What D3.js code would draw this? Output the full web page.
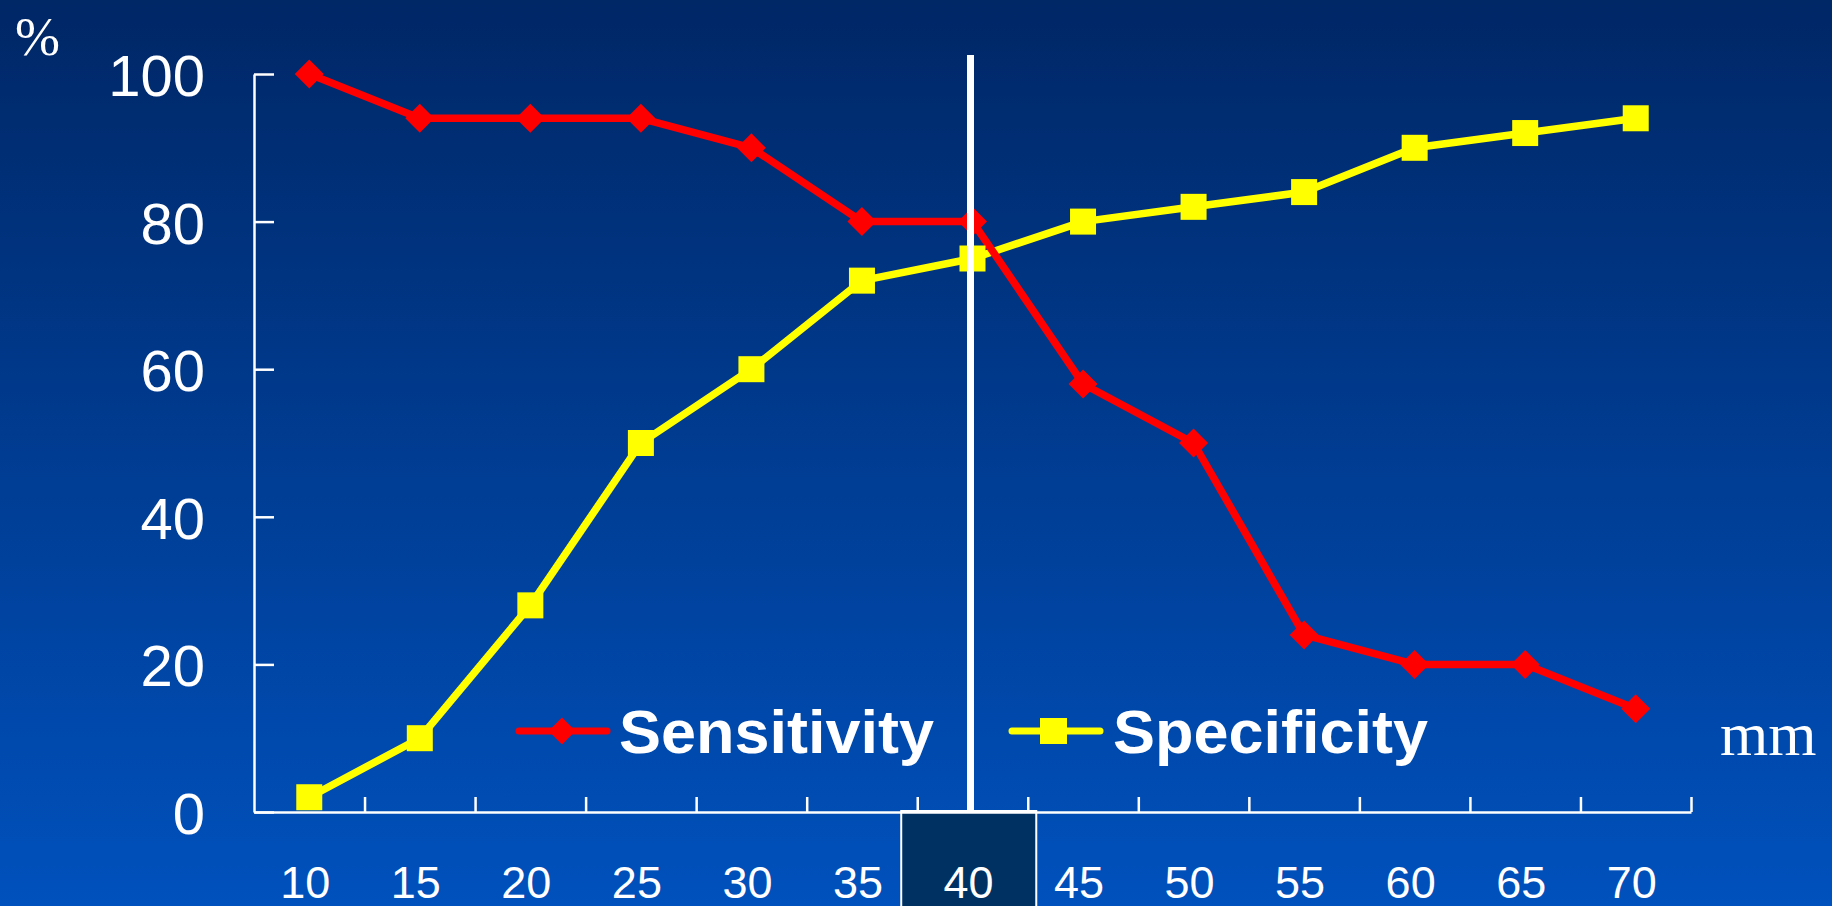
<!DOCTYPE html>
<html>
<head>
<meta charset="utf-8">
<script src="https://cdn.jsdelivr.net/npm/d3@7"></script>
<style>
  html, body { margin: 0; padding: 0; background: #003a8c; }
  svg { display: block; }
</style>
</head>
<body>
<svg id="chart" width="1832" height="906"></svg>
<script>
// Cut-off diameter (mm) on the horizontal axis
const categories = ["10", "15", "20", "25", "30", "35", "40", "45", "50", "55", "60", "65", "70"];
// Percent values for each cut-off
const sensitivity = [100, 94, 94, 94, 90, 80, 80, 58, 50, 24, 20, 20, 14];
const specificity = [2, 10, 28, 50, 60, 72, 75, 80, 82, 84, 90, 92, 94];
const yTicks = [0, 20, 40, 60, 80, 100];
const cutoff = "40";

const W = 1832, H = 906;
const svg = d3.select("#chart");

// Background: dark navy at the top fading to bright blue
const defs = svg.append("defs");
const grad = defs.append("linearGradient")
  .attr("id", "bg").attr("x1", 0).attr("y1", 0).attr("x2", 0).attr("y2", 1);
grad.append("stop").attr("offset", "0%").attr("stop-color", "#002766");
grad.append("stop").attr("offset", "100%").attr("stop-color", "#0051bd");
svg.append("rect").attr("width", W).attr("height", H).attr("fill", "url(#bg)");

const plotLeft = 254, plotRight = 1691, plotTop = 74, plotBottom = 812;

const x = d3.scaleBand().domain(categories).range([plotLeft, plotRight]).paddingInner(0).paddingOuter(0);
const xb = d3.scaleLinear().domain([0, categories.length]).range([plotLeft, plotRight]);
const y = d3.scaleLinear().domain([0, 100]).range([plotBottom, plotTop]);
const cx = d => x(d) + x.bandwidth() / 2;

// Highlight box under the chosen cut-off label
svg.append("rect")
  .attr("x", x(cutoff) - 16).attr("y", plotBottom - 1)
  .attr("width", x.bandwidth() + 24.5).attr("height", H - plotBottom + 4)
  .attr("fill", "#003163").attr("stroke", "#ffffff").attr("stroke-width", 2);

// Y axis with inward ticks
const yAxis = svg.append("g").attr("transform", `translate(${plotLeft},0)`)
  .call(d3.axisLeft(y).tickValues(yTicks).tickSizeInner(-20).tickSizeOuter(0).tickPadding(49));
yAxis.select(".domain").attr("stroke", "#fff").attr("stroke-width", 2.5);
yAxis.selectAll(".tick line").attr("stroke", "#fff").attr("stroke-width", 2.5);
yAxis.selectAll(".tick text")
  .attr("fill", "#fff").attr("dy", "0.37em")
  .style("font-family", "'Liberation Sans', Arial, sans-serif").style("font-size", "58px");

// X axis: boundary ticks pointing up
const xAxis = svg.append("g").attr("transform", `translate(0,${plotBottom})`)
  .call(d3.axisBottom(xb).tickValues(d3.range(1, categories.length + 1)).tickSizeInner(-15).tickSizeOuter(0).tickFormat(""));
xAxis.select(".domain").attr("stroke", "#fff").attr("stroke-width", 2.5);
xAxis.selectAll(".tick line").attr("stroke", "#fff").attr("stroke-width", 2.5);

// X labels centred in each band
const xLab = svg.append("g").attr("transform", `translate(-4,${plotBottom})`)
  .call(d3.axisBottom(x).tickSize(0).tickPadding(0));
xLab.select(".domain").remove();
xLab.selectAll(".tick text")
  .attr("fill", "#fff").attr("y", 86).attr("dy", 0)
  .style("font-family", "'Liberation Sans', Arial, sans-serif").style("font-size", "45px");

// Series
const line = d3.line().x((d, i) => cx(categories[i])).y(d => y(d));
const diamond = s => `M0,${-s}L${s},0L0,${s}L${-s},0Z`;

svg.append("path").datum(specificity).attr("d", line)
  .attr("fill", "none").attr("stroke", "#ffff00").attr("stroke-width", 7.5).attr("stroke-linejoin", "round");
svg.append("path").datum(sensitivity).attr("d", line)
  .attr("fill", "none").attr("stroke", "#ff0000").attr("stroke-width", 7.5).attr("stroke-linejoin", "round");

svg.append("g").selectAll("rect").data(specificity).join("rect")
  .attr("x", (d, i) => cx(categories[i]) - 13).attr("y", d => y(d) - 13)
  .attr("width", 26).attr("height", 26).attr("fill", "#ffff00");
svg.append("g").selectAll("path").data(sensitivity).join("path")
  .attr("transform", (d, i) => `translate(${cx(categories[i])},${y(d)})`)
  .attr("d", diamond(14.5)).attr("fill", "#ff0000");

// Vertical marker at the cut-off
svg.append("line")
  .attr("x1", cx(cutoff) - 2).attr("x2", cx(cutoff) - 2)
  .attr("y1", 55).attr("y2", plotBottom)
  .attr("stroke", "#ffffff").attr("stroke-width", 7);

// Legend
const legend = [
  { name: "Sensitivity", color: "#ff0000", shape: "diamond", x0: 519 },
  { name: "Specificity", color: "#ffff00", shape: "square", x0: 1012 }
];
const lg = svg.append("g").selectAll("g").data(legend).join("g")
  .attr("transform", d => `translate(${d.x0},731)`);
lg.append("line").attr("x1", 0).attr("x2", 88).attr("y1", 0).attr("y2", 0)
  .attr("stroke", d => d.color).attr("stroke-width", 7).attr("stroke-linecap", "round");
lg.filter(d => d.shape === "diamond").append("path")
  .attr("transform", "translate(43,0)").attr("d", diamond(13.5)).attr("fill", d => d.color);
lg.filter(d => d.shape === "square").append("rect")
  .attr("x", 28).attr("y", -13).attr("width", 27).attr("height", 26).attr("fill", d => d.color);
lg.append("text").attr("x", d => d.shape === "diamond" ? 100 : 101).attr("y", 22)
  .text(d => d.name).attr("fill", "#fff")
  .attr("textLength", 315).attr("lengthAdjust", "spacingAndGlyphs")
  .style("font-family", "'Liberation Sans', Arial, sans-serif").style("font-weight", "bold").style("font-size", "61px");

// Axis unit labels
svg.append("text").attr("x", 15).attr("y", 55).text("%")
  .attr("fill", "#fff").style("font-family", "'Liberation Serif', 'Times New Roman', serif").style("font-size", "54px");
svg.append("text").attr("x", 1720).attr("y", 755).text("mm")
  .attr("fill", "#fff").style("font-family", "'Liberation Serif', 'Times New Roman', serif").style("font-size", "62px");
</script>
</body>
</html>
